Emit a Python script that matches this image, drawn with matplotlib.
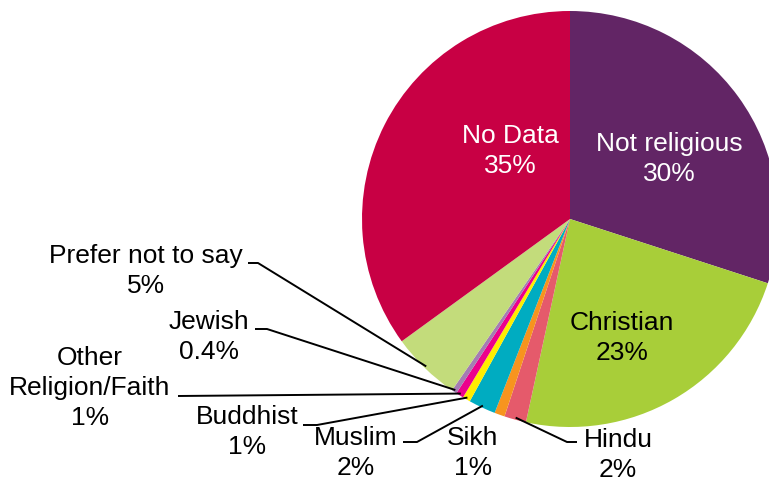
import matplotlib.pyplot as plt
import numpy as np

plt.rcParams['font.family'] = ['Liberation Sans', 'DejaVu Sans']

names = ['Not religious', 'Christian', 'Hindu', 'Sikh', 'Muslim', 'Buddhist',
         'Other\nReligion/Faith', 'Jewish', 'Prefer not to say', 'No Data']
shares = [30.0, 23.4, 1.7, 0.8, 2.1, 0.6, 0.6, 0.4, 5.4, 35.0]
colors = ['#622565', '#A8CE39', '#E55A6B', '#F7941E', '#00ACC1', '#FFED00',
          '#EC008C', '#A47DB3', '#C3DC7B', '#C80044']

W, H = 769, 484


def px(x, y):
    # pixel position measured from the top-left corner
    return x, H - y


def fmt(v):
    return f'{v:.0f}%' if v >= 0.5 else f'{v:.1f}%'


fig = plt.figure(figsize=(W / 100, H / 100), dpi=100)
ax = fig.add_axes([0, 0, 1, 1])

cx, cy = px(570, 219)
R = 208
wedges, _ = ax.pie(shares, colors=colors, startangle=90, counterclock=False,
                   center=(cx, cy), radius=R, frame=True,
                   wedgeprops=dict(linewidth=0))
ax.set_xlim(0, W)
ax.set_ylim(0, H)
ax.set_aspect('equal')
ax.axis('off')

# label centre, text colour, leader line points (label side first)
layout = {
    'Not religious': ((669, 159), 'white', None),
    'No Data': ((510, 151), 'white', None),
    'Christian': ((622, 338), 'black', None),
    'Hindu': ((618, 455), 'black', [(577, 442), (567, 442)]),
    'Sikh': ((473, 453), 'black', None),
    'Muslim': ((356, 453), 'black', [(403, 442), (417, 442)]),
    'Buddhist': ((247, 432), 'black', [(303, 425), (317, 425)]),
    'Other\nReligion/Faith': ((90, 388), 'black', [(178, 396)]),
    'Jewish': ((209, 337), 'black', [(255, 329), (267, 329)]),
    'Prefer not to say': ((146, 271), 'black', [(248, 263), (258, 263)]),
}

for w, name, v in zip(wedges, names, shares):
    (lx, ly), col, line = layout[name]
    ax.text(*px(lx, ly), f'{name}\n{fmt(v)}', ha='center', va='center',
            fontsize=19, color=col, linespacing=1.32)
    if line:
        mid = np.deg2rad((w.theta1 + w.theta2) / 2)
        end = (cx + 0.99 * R * np.cos(mid), cy + 0.99 * R * np.sin(mid))
        pts = [px(*p) for p in line] + [end]
        xs, ys = zip(*pts)
        ax.plot(xs, ys, color='black', lw=1.4, solid_capstyle='butt')

fig.savefig('out.png', dpi=100)
